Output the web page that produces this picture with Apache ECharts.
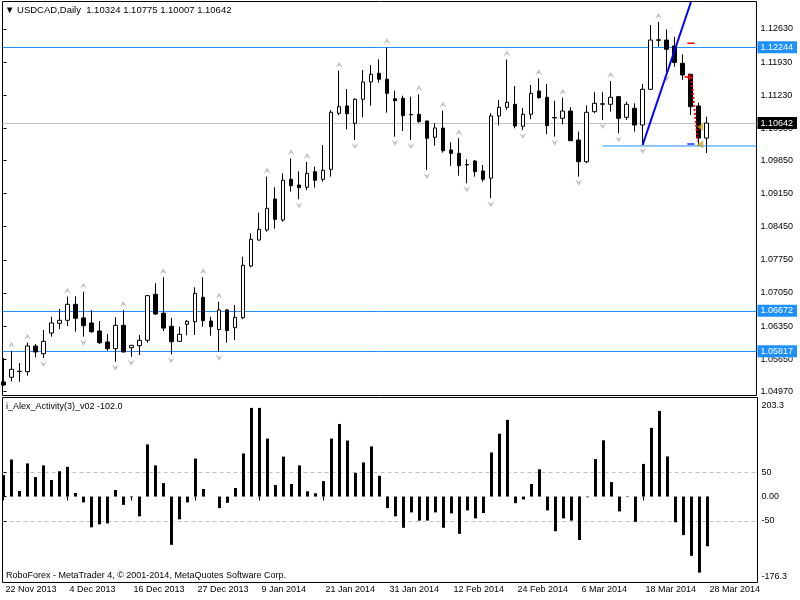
<!DOCTYPE html>
<html>
<head>
<meta charset="utf-8">
<script src="https://cdn.jsdelivr.net/npm/echarts@6/dist/echarts.min.js"></script>
<style>
html, body { margin: 0; padding: 0; background: #fff; }
#chart { width: 800px; height: 600px; }
</style>
</head>
<body>
<div id="chart"></div>
<script>
// USDCAD daily bars, 22 Nov 2013 .. 28 Mar 2014 (one per trading day)
const opens = [
  1.05168, 1.05267, 1.05390, 1.05385, 1.05929, 1.05766, 1.06203, 1.06409, 1.06472, 1.06810,
  1.06521, 1.06415, 1.06246, 1.06013, 1.05872, 1.06366, 1.05893, 1.05935, 1.06049, 1.07022,
  1.06622, 1.06345, 1.06028, 1.06387, 1.06442, 1.06958, 1.06457, 1.06277, 1.06690, 1.06315,
  1.06527, 1.07620, 1.08169, 1.08381, 1.09036, 1.08592, 1.09453, 1.09332, 1.09284, 1.09613,
  1.09453, 1.09664, 1.10848, 1.11002, 1.10636, 1.11144, 1.11510, 1.11693, 1.11567, 1.11156,
  1.11165, 1.10825, 1.10827, 1.10685, 1.10341, 1.10537, 1.10072, 1.10002, 1.09765, 1.09839,
  1.09628, 1.09477, 1.10791, 1.10975, 1.11038, 1.10573, 1.10827, 1.11319, 1.11186, 1.10759,
  1.10742, 1.10896, 1.10283, 1.09824, 1.10882, 1.11049, 1.11038, 1.11199, 1.10763, 1.10954,
  1.10600, 1.11355, 1.12391, 1.12397, 1.12271, 1.11905, 1.11672, 1.11002, 1.10324
]
const highs = [
  1.05675, 1.05829, 1.05569, 1.05998, 1.05971, 1.06267, 1.06548, 1.06711, 1.06971, 1.06979,
  1.07077, 1.06690, 1.06457, 1.06182, 1.06535, 1.06690, 1.05950, 1.06161, 1.06998, 1.07254,
  1.07381, 1.06521, 1.06337, 1.06479, 1.07170, 1.07381, 1.06548, 1.06865, 1.06711, 1.06795,
  1.07816, 1.08311, 1.08747, 1.09508, 1.09284, 1.09579, 1.09897, 1.09622, 1.09818, 1.09719,
  1.10178, 1.10918, 1.11748, 1.11362, 1.11165, 1.11763, 1.11869, 1.11989, 1.12244, 1.11326,
  1.11220, 1.11199, 1.11250, 1.10690, 1.10636, 1.10903, 1.10235, 1.10319, 1.09875, 1.09860,
  1.09755, 1.10848, 1.11129, 1.11985, 1.11425, 1.10960, 1.11446, 1.11588, 1.11467, 1.11114,
  1.11178, 1.10975, 1.10459, 1.11013, 1.11292, 1.11292, 1.11531, 1.11205, 1.11093, 1.11059,
  1.11467, 1.12714, 1.12778, 1.12619, 1.12467, 1.12095, 1.11680, 1.11072, 1.10775
]
const lows = [
  1.05083, 1.05174, 1.05174, 1.05301, 1.05690, 1.05675, 1.06125, 1.06286, 1.06351, 1.06231,
  1.06125, 1.06210, 1.05971, 1.05829, 1.05597, 1.05795, 1.05702, 1.05738, 1.05998, 1.06584,
  1.06246, 1.05753, 1.06020, 1.06155, 1.06161, 1.06337, 1.06146, 1.05808, 1.05998, 1.06055,
  1.06493, 1.07592, 1.08155, 1.08345, 1.08408, 1.08556, 1.09191, 1.09030, 1.09226, 1.09275,
  1.09402, 1.09508, 1.10806, 1.10510, 1.10283, 1.10763, 1.11009, 1.11495, 1.10861, 1.10353,
  1.10474, 1.10283, 1.10649, 1.09649, 1.10163, 1.10015, 1.09740, 1.09529, 1.09368, 1.09508,
  1.09402, 1.09051, 1.10590, 1.10918, 1.10530, 1.10495, 1.10721, 1.11156, 1.10404, 1.10353,
  1.10615, 1.10262, 1.09508, 1.09791, 1.10848, 1.10706, 1.10882, 1.10425, 1.10706, 1.10459,
  1.10178, 1.11340, 1.12256, 1.11710, 1.11833, 1.11552, 1.10812, 1.10157, 1.10007
]
const closes = [
  1.05104, 1.05436, 1.05394, 1.05929, 1.05802, 1.06028, 1.06415, 1.06472, 1.06810, 1.06514,
  1.06358, 1.06231, 1.05998, 1.05872, 1.06366, 1.05802, 1.05943, 1.06049, 1.06992, 1.06605,
  1.06307, 1.06019, 1.06176, 1.06451, 1.07043, 1.06463, 1.06337, 1.06690, 1.06256, 1.06535,
  1.07635, 1.08184, 1.08396, 1.08840, 1.08607, 1.09432, 1.09317, 1.09275, 1.09579, 1.09432,
  1.09643, 1.10869, 1.10987, 1.10839, 1.11144, 1.11510, 1.11672, 1.11567, 1.11271, 1.11114,
  1.10797, 1.10815, 1.10670, 1.10319, 1.10537, 1.10057, 1.10002, 1.09740, 1.09757, 1.09613,
  1.09453, 1.10791, 1.10975, 1.11080, 1.10579, 1.10827, 1.11271, 1.11178, 1.10586, 1.10750,
  1.10896, 1.10269, 1.09824, 1.10869, 1.11059, 1.11040, 1.11186, 1.10742, 1.11038, 1.10600,
  1.11355, 1.12397, 1.12402, 1.12201, 1.11922, 1.11658, 1.10987, 1.10324, 1.10642
]
// i_Alex_Activity(3)_v02 histogram
const activity = [
  44, 76, 11.5, 68, 40, 64, 34, 52, 61, 7.4,
  -12, -63, -57, -55, 13.5, -17, -1.5, -40.5, 107, 64,
  27.7, -99, -46.6, -12, 78, 15.5, 0, -23.6, -12.8, 17.6,
  88.5, 182, 182, 119, 23.6, 82, 25.7, 64, 10.8, 6.8,
  31.8, 119, 149, 115, 48.6, 70, 103, 42.6, -23.6, -40.5,
  -64, -32.4, -49.3, -49.3, -32.4, -64, -34.5, -76.4, -28.4, -44.6,
  -33.8, 90.5, 129, 157.4, -13.5, -6, 25.7, 56, -28.4, -71,
  -44.6, -49.3, -89, -1.4, 77, 115.5, 29.7, -30.4, -1, -52,
  67, 141, 175.7, 82.4, -52.7, -79, -121.6, -156, -102
]
const fractalUp = [1, 3, 8, 10, 15, 20, 25, 27, 33, 36, 38, 42, 48, 52, 55, 57, 63, 67, 70, 76, 82]
const fractalDown = [5, 10, 14, 16, 21, 27, 37, 44, 49, 51, 53, 58, 61, 65, 69, 72, 75, 77, 80, 83]

const dateTicks = [0, 8, 16, 24, 32, 40, 48, 56, 64, 72, 80, 88]
const dateLabels = ['22 Nov 2013', '4 Dec 2013', '16 Dec 2013', '27 Dec 2013', '9 Jan 2014', '21 Jan 2014',
  '31 Jan 2014', '12 Feb 2014', '24 Feb 2014', '6 Mar 2014', '18 Mar 2014', '28 Mar 2014']
const priceTicks = [1.12630, 1.11930, 1.11230, 1.10530, 1.09850, 1.09150, 1.08450, 1.07750, 1.07050, 1.06350, 1.05650, 1.04970]
const actTicks = [203.3, 50, 0, -50, -176.3]
const actTickLabels = ['203.3', '50', '0.00', '-50', '-176.3']
const actLevels = [50, -50]

// horizontal price lines; the bid line is the last close
const levelPrices = [1.12244, 1.06672, 1.05817]
const bidPrice = closes[closes.length - 1]
// other chart objects
const supportRay = { from: 75, price: 1.10157 }
const trendLine = [[80, 1.10178], [86.05, 1.1320]]
const targetHigh = [[85.6, 1.12328], [86.5, 1.12328]]
const targetLow = [[85.6, 1.10199], [86.5, 1.10199]]
const tradePath = [[86.1, 1.11615], [86.9, 1.10248]]
const tradeOpen = [[85.75, 1.11615]]
const tradeClose = [[87.2, 1.10558], [87.2, 1.10188]]

const font = 'Liberation Sans, Arial, sans-serif'
const blue = '#1e90ff'
const bidGray = '#c0c0c0'
const n = closes.length
const xMin = -0.125
const xMax = xMin + 755 / 8
const priceMin = 1.04882
const priceMax = 1.13211

const candles = closes.map((c, i) => [i, opens[i], c, lows[i], highs[i]])
const bars = activity.map((v, i) => [i, v])

// hidden axis that draws crisp horizontal lines plus the price box on the scale
function levelAxis(values, lineColor, boxColor) {
  return {
    type: 'value', gridIndex: 0, position: 'right', min: priceMin, max: priceMax,
    axisLine: { show: false },
    axisTick: { show: false, customValues: values },
    splitLine: { show: true, showMinLine: true, showMaxLine: true, lineStyle: { width: 1, color: lineColor, type: 'solid' } },
    axisLabel: {
      customValues: values,
      margin: 1,
      formatter: (v) => v.toFixed(5),
      backgroundColor: boxColor, color: '#fff', padding: [1, 4, 0, 3],
      fontFamily: font, fontSize: 9, lineHeight: 11,
    },
  }
}

const chart = echarts.init(document.getElementById('chart'), null, { renderer: 'canvas' })

chart.setOption({
  animation: false,
  backgroundColor: '#fff',
  textStyle: { fontFamily: font, fontSize: 9, color: '#000' },
  title: [
    {
      text: `▼ USDCAD,Daily  ${opens[n - 1].toFixed(5)} ${highs[n - 1].toFixed(5)} ${lows[n - 1].toFixed(5)} ${closes[n - 1].toFixed(5)}`,
      left: 5, top: 5, padding: 0,
      textStyle: { fontFamily: font, fontSize: 9.5, fontWeight: 'normal', color: '#000' },
    },
    {
      text: `i_Alex_Activity(3)_v02 ${activity[n - 1].toFixed(1)}`,
      left: 6, top: 402, padding: 0,
      textStyle: { fontFamily: font, fontSize: 9, fontWeight: 'normal', color: '#000' },
    },
    {
      text: 'RoboForex - MetaTrader 4, © 2001-2014, MetaQuotes Software Corp.',
      left: 6, top: 571, padding: 0,
      textStyle: { fontFamily: font, fontSize: 9, fontWeight: 'normal', color: '#000' },
    },
  ],
  grid: [
    { left: 2.5, top: 1.5, width: 755, height: 394, show: true, borderColor: '#000', borderWidth: 1 },
    { left: 2.5, top: 397.5, width: 755, height: 185, show: true, borderColor: '#000', borderWidth: 1 },
  ],
  xAxis: [
    { type: 'value', gridIndex: 0, min: xMin, max: xMax, show: false },
    {
      type: 'value', gridIndex: 1, min: xMin, max: xMax,
      axisLine: { show: false },
      splitLine: { show: false },
      axisTick: { customValues: dateTicks, length: 4, lineStyle: { color: '#000' } },
      axisLabel: {
        customValues: dateTicks,
        formatter: (v) => dateLabels[dateTicks.indexOf(v)],
        align: 'left', margin: 3, padding: [0, 0, 0, 2],
        color: '#000', fontFamily: font, fontSize: 9,
      },
    },
  ],
  yAxis: [
    {
      type: 'value', gridIndex: 0, position: 'right', min: priceMin, max: priceMax,
      axisLine: { show: false },
      splitLine: { show: false },
      axisTick: { customValues: priceTicks, length: 3, lineStyle: { color: '#000' } },
      axisLabel: {
        customValues: priceTicks,
        formatter: (v) => v.toFixed(5),
        margin: 4, color: '#000', fontFamily: font, fontSize: 9,
      },
    },
    levelAxis(levelPrices, blue, blue),
    levelAxis([bidPrice], bidGray, '#000'),
    {
      type: 'value', gridIndex: 1, position: 'right', min: -176.3, max: 203.3,
      axisLine: { show: false },
      splitLine: { show: false },
      axisTick: { customValues: [50, 0, -50], length: 3, lineStyle: { color: '#000' } },
      axisLabel: {
        customValues: actTicks,
        formatter: (v) => {
          const k = actTicks.indexOf(v)
          const s = actTickLabels[k]
          if (k === 0) return `{top|${s}}`
          if (k === actTicks.length - 1) return `{bot|${s}}`
          return s
        },
        rich: {
          top: { padding: [16, 0, 0, 0], fontFamily: font, fontSize: 9, color: '#000' },
          bot: { padding: [0, 0, 12, 0], fontFamily: font, fontSize: 9, color: '#000' },
        },
        margin: 4, color: '#000', fontFamily: font, fontSize: 9,
      },
    },
    {
      // dashed indicator levels
      type: 'value', gridIndex: 1, position: 'right', min: -176.3, max: 203.3,
      axisLine: { show: false },
      axisLabel: { show: false },
      axisTick: { show: false, customValues: actLevels },
      splitLine: { show: true, lineStyle: { color: bidGray, width: 1, type: [4, 3] } },
    },
  ],
  series: [
    {
      type: 'candlestick',
      xAxisIndex: 0, yAxisIndex: 0,
      data: candles,
      encode: { x: 0, y: [1, 2, 3, 4] },
      barWidth: 4,
      itemStyle: { color: '#fff', color0: '#000', borderColor: '#000', borderColor0: '#000', borderWidth: 1 },
    },
    {
      type: 'scatter', xAxisIndex: 0, yAxisIndex: 0,
      data: fractalUp.map((i) => [i, highs[i]]),
      symbol: 'path://M3.5,0 L7,5 L3.5,3 L0,5 Z', symbolSize: [7, 6], symbolOffset: [0, -6],
      itemStyle: { color: '#b0b0b0' }, silent: true,
    },
    {
      type: 'scatter', xAxisIndex: 0, yAxisIndex: 0,
      data: fractalDown.map((i) => [i, lows[i]]),
      symbol: 'path://M0,0 L3.5,2 L7,0 L3.5,5 Z', symbolSize: [7, 6], symbolOffset: [0, 6],
      itemStyle: { color: '#b0b0b0' }, silent: true,
    },
    {
      type: 'line', xAxisIndex: 0, yAxisIndex: 0,
      data: [[supportRay.from, supportRay.price], [xMax, supportRay.price]],
      showSymbol: false, lineStyle: { color: blue, width: 1 }, silent: true,
    },
    {
      type: 'line', xAxisIndex: 0, yAxisIndex: 0, data: trendLine,
      showSymbol: false, lineStyle: { color: '#0000ff', width: 2 }, silent: true, z: 5,
    },
    {
      type: 'line', xAxisIndex: 0, yAxisIndex: 0, data: targetHigh,
      showSymbol: false, lineStyle: { color: '#ff0000', width: 1.5 }, silent: true,
    },
    {
      type: 'line', xAxisIndex: 0, yAxisIndex: 0, data: targetLow,
      showSymbol: false, lineStyle: { color: '#1030ff', width: 1.5 }, silent: true,
    },
    {
      type: 'line', xAxisIndex: 0, yAxisIndex: 0, data: tradePath,
      showSymbol: false, lineStyle: { color: '#ff0000', width: 2, type: [2, 2] }, silent: true, z: 6,
    },
    {
      type: 'scatter', xAxisIndex: 0, yAxisIndex: 0, data: tradeOpen,
      symbol: 'path://M0,3 L4,3 L4,0 L8,4 L4,8 L4,5 L0,5 Z', symbolSize: [8, 8],
      itemStyle: { color: '#ff0000' }, silent: true, z: 6,
    },
    {
      type: 'scatter', xAxisIndex: 0, yAxisIndex: 0, data: tradeClose,
      symbol: 'path://M6,0 L6,8 L0,4 Z', symbolSize: [6, 8],
      itemStyle: { color: '#daa520' }, silent: true, z: 6,
    },
    {
      type: 'bar', xAxisIndex: 1, yAxisIndex: 3,
      data: bars, barWidth: 3,
      itemStyle: { color: '#000' },
    },
  ],
})
</script>
</body>
</html>
